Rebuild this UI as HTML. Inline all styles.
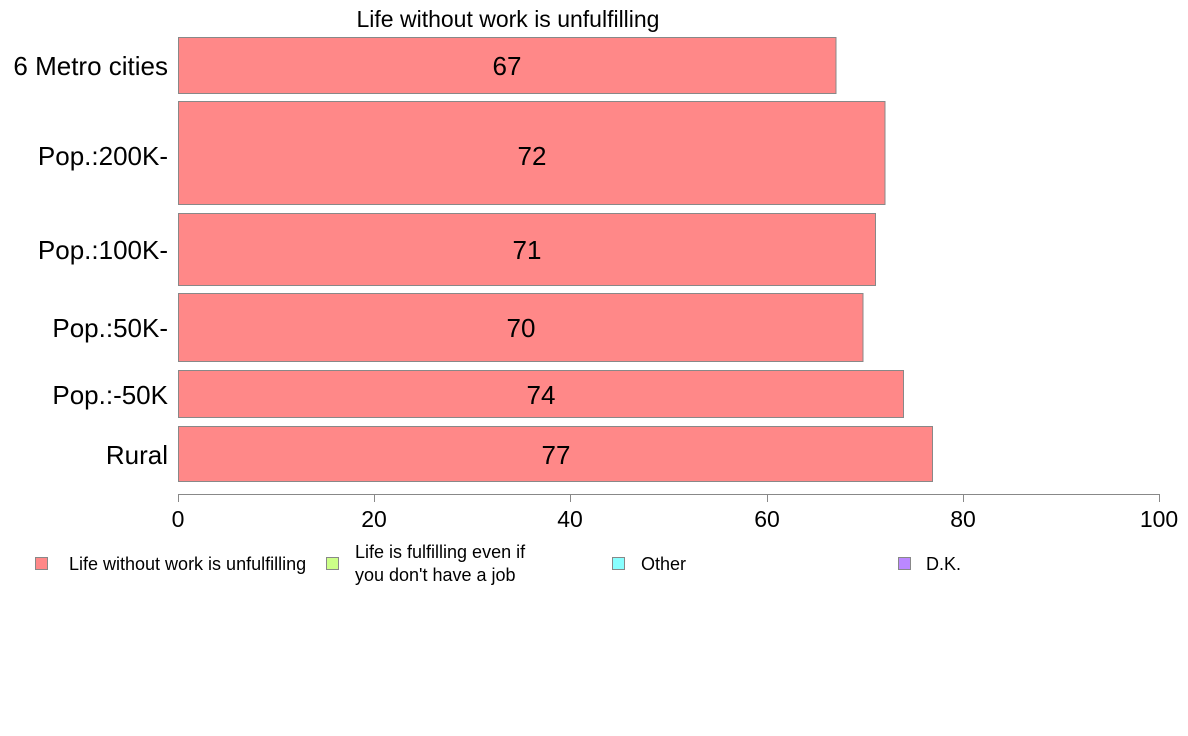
<!DOCTYPE html>
<html><head><meta charset="utf-8"><style>
html,body{margin:0;padding:0;background:#fff;}
svg{display:block;font-family:"Liberation Sans",Arial,sans-serif;}
</style></head><body>
<svg width="1188" height="736" xmlns="http://www.w3.org/2000/svg">
<rect width="1188" height="736" fill="#fff"/>
<text x="508" y="27" font-size="23" text-anchor="middle" fill="#000">Life without work is unfulfilling</text>
<g fill="#ff8888" stroke="#888" stroke-width="1">
<rect x="178.5" y="37.5" width="657.5" height="56"/>
<rect x="178.5" y="101.5" width="706.5" height="103"/>
<rect x="178.5" y="213.5" width="697" height="72"/>
<rect x="178.5" y="293.5" width="684.5" height="68"/>
<rect x="178.5" y="370.5" width="725" height="47"/>
<rect x="178.5" y="426.5" width="754" height="55"/>
</g>
<g font-size="26" text-anchor="middle" fill="#000">
<text x="507" y="75">67</text>
<text x="532" y="165">72</text>
<text x="527" y="259">71</text>
<text x="521" y="337">70</text>
<text x="541" y="404">74</text>
<text x="556" y="464">77</text>
</g>
<g font-size="26" text-anchor="end" fill="#000">
<text x="168" y="75">6 Metro cities</text>
<text x="168" y="165">Pop.:200K-</text>
<text x="168" y="259">Pop.:100K-</text>
<text x="168" y="337">Pop.:50K-</text>
<text x="168" y="404">Pop.:-50K</text>
<text x="168" y="464">Rural</text>
</g>
<g stroke="#888" stroke-width="1">
<line x1="178" y1="494.5" x2="1159" y2="494.5"/>
<line x1="178.5" y1="494" x2="178.5" y2="502"/>
<line x1="374.5" y1="494" x2="374.5" y2="502"/>
<line x1="570.5" y1="494" x2="570.5" y2="502"/>
<line x1="767.5" y1="494" x2="767.5" y2="502"/>
<line x1="963.5" y1="494" x2="963.5" y2="502"/>
<line x1="1159.5" y1="494" x2="1159.5" y2="502"/>
</g>
<g font-size="23" text-anchor="middle" fill="#000">
<text x="178" y="527">0</text>
<text x="374" y="527">20</text>
<text x="570" y="527">40</text>
<text x="767" y="527">60</text>
<text x="963" y="527">80</text>
<text x="1159" y="527">100</text>
</g>
<g stroke="#888" stroke-width="1">
<rect x="35.5" y="557.5" width="12" height="12" fill="#ff8888"/>
<rect x="326.5" y="557.5" width="12" height="12" fill="#ccff88"/>
<rect x="612.5" y="557.5" width="12" height="12" fill="#88ffff"/>
<rect x="898.5" y="557.5" width="12" height="12" fill="#bb88ff"/>
</g>
<g font-size="18" fill="#000">
<text x="69" y="570">Life without work is unfulfilling</text>
<text x="355" y="558">Life is fulfilling even if</text>
<text x="355" y="581">you don't have a job</text>
<text x="641" y="570">Other</text>
<text x="926" y="570">D.K.</text>
</g>
</svg>
</body></html>
